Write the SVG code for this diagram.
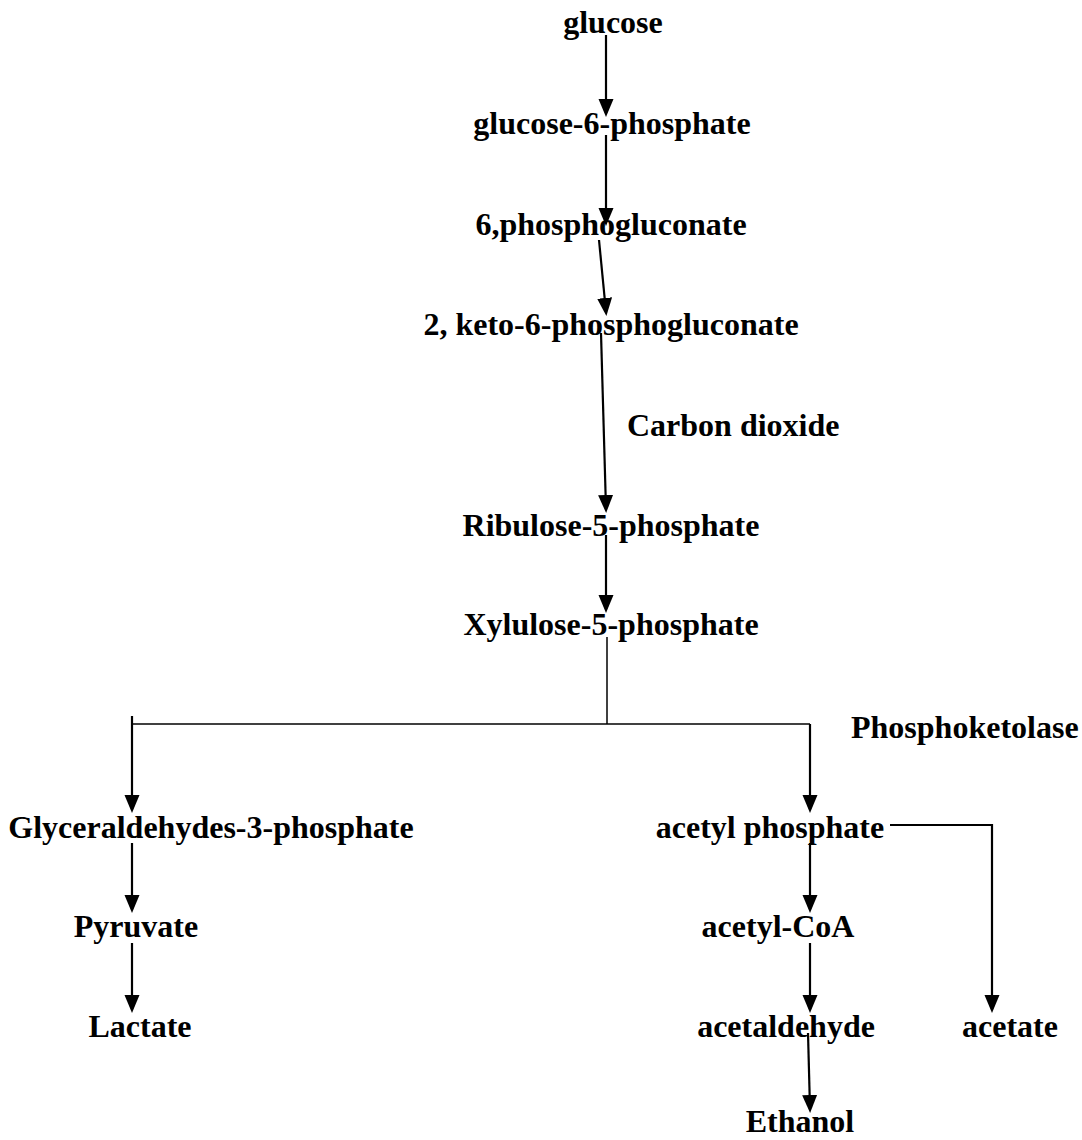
<svg xmlns="http://www.w3.org/2000/svg" width="1082" height="1140" viewBox="0 0 1082 1140">
<style>
.t{font-family:"Liberation Serif","Times New Roman",serif;font-weight:bold;font-size:32px;fill:#000}
.m{text-anchor:middle}
.a{stroke:#000;stroke-width:2.2;fill:none;marker-end:url(#ah)}
.l{stroke:#000;stroke-width:1.5;fill:none}
</style>
<defs>
<marker id="ah" markerUnits="userSpaceOnUse" markerWidth="19" markerHeight="16" refX="14" refY="7.5" orient="auto">
<path d="M0,0 L18,7.5 L0,15 z" fill="#000"/>
</marker>
</defs>
<rect width="1082" height="1140" fill="#fff"/>
<g id="connectors">
<line class="a" x1="606" y1="35" x2="606" y2="113"/>
<line class="a" x1="606" y1="135" x2="606" y2="222"/>
<line class="a" x1="599" y1="240" x2="606" y2="312"/>
<line class="a" x1="601" y1="333" x2="606" y2="509"/>
<line class="a" x1="606" y1="535" x2="606" y2="609"/>
<line class="l" x1="607" y1="637" x2="607" y2="724"/>
<line class="l" x1="132" y1="724" x2="810" y2="724"/>
<line class="a" x1="132" y1="716" x2="132" y2="809"/>
<line class="a" x1="810" y1="724" x2="810" y2="809"/>
<line class="a" x1="132" y1="843" x2="132" y2="909"/>
<line class="a" x1="132" y1="943" x2="132" y2="1009"/>
<line class="a" x1="810" y1="843" x2="810" y2="909"/>
<polyline class="a" points="890,825 992,825 992,1009"/>
<line class="a" x1="810" y1="943" x2="810" y2="1009"/>
<line class="a" x1="808" y1="1033" x2="810" y2="1109"/>
</g>
<g id="glucose"><text class="t m" x="613" y="33">glucose</text></g>
<g id="g6p"><text class="t m" x="612" y="134">glucose-6-phosphate</text></g>
<g id="pg6"><text class="t m" x="611" y="235">6,phosphogluconate</text></g>
<g id="kpg"><text class="t m" x="611" y="335">2, keto-6-phosphogluconate</text></g>
<g id="co2"><text class="t" x="627" y="436">Carbon dioxide</text></g>
<g id="ru5p"><text class="t m" x="611" y="536">Ribulose-5-phosphate</text></g>
<g id="xu5p"><text class="t m" x="611" y="635">Xylulose-5-phosphate</text></g>
<g id="phosphoketolase"><text class="t" x="851" y="738">Phosphoketolase</text></g>
<g id="g3p"><text class="t m" x="211" y="838">Glyceraldehydes-3-phosphate</text></g>
<g id="acetylphosphate"><text class="t m" x="770" y="838">acetyl phosphate</text></g>
<g id="pyruvate"><text class="t m" x="136" y="937">Pyruvate</text></g>
<g id="acetylcoa"><text class="t m" x="778" y="937">acetyl-CoA</text></g>
<g id="lactate"><text class="t m" x="140" y="1037">Lactate</text></g>
<g id="acetaldehyde"><text class="t m" x="786" y="1037">acetaldehyde</text></g>
<g id="acetate"><text class="t m" x="1010" y="1037">acetate</text></g>
<g id="ethanol"><text class="t m" x="800" y="1132">Ethanol</text></g>
</svg>
